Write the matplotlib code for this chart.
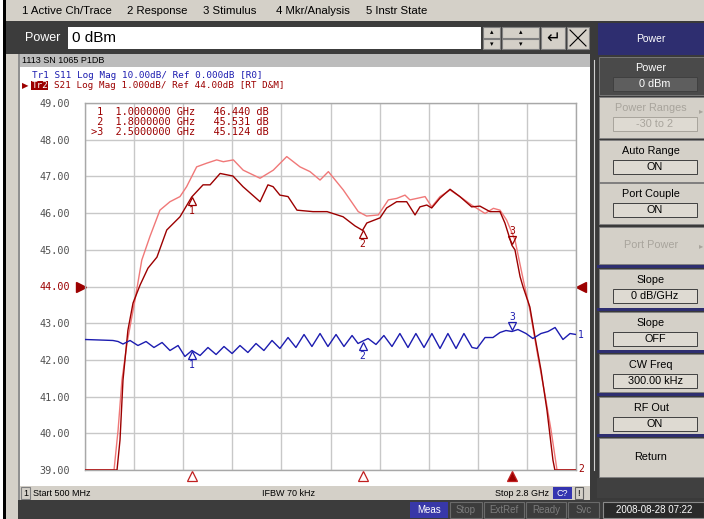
import numpy as np
import matplotlib
matplotlib.use("Agg")
import matplotlib.pyplot as plt
from matplotlib.patches import Rectangle
from matplotlib.transforms import offset_copy

# ---------------- data ----------------
freq_s21 = [0.500, 0.650, 0.664, 0.678, 0.701, 0.725, 0.758, 0.795, 0.837, 0.883, 0.945,
            1.000, 1.053, 1.086, 1.133, 1.193, 1.240, 1.320, 1.357, 1.381, 1.413, 1.451,
            1.493, 1.568, 1.634, 1.709, 1.765, 1.800, 1.820, 1.882, 1.913, 1.960, 2.007,
            2.046, 2.069, 2.101, 2.124, 2.163, 2.210, 2.256, 2.311, 2.350, 2.397, 2.444,
            2.467, 2.500, 2.514, 2.538, 2.552, 2.584, 2.608, 2.636, 2.664, 2.692, 2.701, 2.800]
s21_db = [39.00, 39.00, 39.82, 41.45, 42.81, 43.55, 44.04, 44.50, 44.80, 45.54, 45.90,
          46.44, 46.77, 46.77, 47.08, 47.01, 46.72, 46.31, 46.77, 46.72, 46.49, 46.45,
          46.08, 46.04, 46.04, 45.90, 45.65, 45.53, 45.73, 45.87, 46.14, 46.31, 46.31,
          45.95, 46.17, 46.22, 46.14, 46.41, 46.65, 46.45, 46.17, 46.19, 46.04, 46.04,
          45.73, 45.12, 45.00, 44.27, 43.99, 43.44, 42.62, 41.72, 40.63, 39.27, 39.00, 39.00]

freq_mem = [0.500, 0.636, 0.655, 0.673, 0.697, 0.734, 0.766, 0.804, 0.851, 0.898, 0.945,
            0.976, 1.023, 1.070, 1.117, 1.148, 1.195, 1.241, 1.320, 1.382, 1.445, 1.507,
            1.554, 1.601, 1.640, 1.710, 1.780, 1.819, 1.874, 1.921, 1.960, 1.999, 2.022,
            2.054, 2.093, 2.124, 2.163, 2.210, 2.256, 2.311, 2.374, 2.413, 2.444, 2.475,
            2.514, 2.553, 2.584, 2.622, 2.655, 2.683, 2.711, 2.800]
mem_db = [39.00, 39.00, 40.09, 41.45, 42.46, 43.63, 44.72, 45.36, 46.08, 46.31, 46.45,
          46.72, 47.26, 47.36, 47.45, 47.40, 47.45, 47.17, 46.95, 47.17, 47.54, 47.26,
          47.13, 46.90, 47.13, 46.63, 46.04, 45.92, 45.95, 46.36, 46.40, 46.49, 46.36,
          46.40, 46.45, 46.17, 46.45, 46.63, 46.45, 46.22, 45.99, 46.13, 46.08, 45.81,
          45.27, 44.18, 43.36, 42.08, 41.04, 40.09, 39.00, 39.00]

freq_s11 = [0.500, 0.570, 0.631, 0.655, 0.678, 0.711, 0.748, 0.786, 0.823, 0.861, 0.898,
            0.936, 0.968, 1.001, 1.039, 1.076, 1.114, 1.151, 1.189, 1.226, 1.263, 1.301,
            1.338, 1.376, 1.413, 1.451, 1.488, 1.526, 1.563, 1.601, 1.638, 1.676, 1.713,
            1.751, 1.779, 1.797, 1.826, 1.863, 1.900, 1.938, 1.975, 2.013, 2.050, 2.088,
            2.125, 2.163, 2.200, 2.238, 2.275, 2.313, 2.336, 2.374, 2.411, 2.444, 2.472,
            2.500, 2.528, 2.566, 2.598, 2.636, 2.669, 2.702, 2.739, 2.772, 2.800]
s11_db = [-14.44, -14.58, -14.71, -14.99, -15.67, -14.71, -16.08, -14.99, -16.62, -15.26, -17.44,
          -16.08, -19.07, -17.44, -18.80, -16.62, -18.53, -16.35, -18.26, -16.08, -17.98, -15.53,
          -17.44, -14.71, -16.89, -13.90, -16.62, -13.08, -16.35, -12.81, -16.35, -13.08, -16.35,
          -13.35, -15.53, -14.99, -14.17, -15.80, -13.35, -16.35, -12.81, -16.62, -12.81, -16.62,
          -12.81, -16.89, -12.81, -16.89, -12.81, -16.62, -16.89, -13.90, -13.90, -12.53, -11.99,
          -12.26, -11.72, -12.81, -14.17, -12.81, -12.26, -11.17, -14.44, -12.81, -13.08]

marker_freq = [1.0, 1.8, 2.5]
marker_s21 = [46.440, 45.531, 45.124]
marker_s11 = [-17.44, -14.99, -12.26]
marker_lines = [" 1  1.0000000 GHz   46.440 dB",
                " 2  1.8000000 GHz   45.531 dB",
                ">3  2.5000000 GHz   45.124 dB"]
y_levels = [39, 40, 41, 42, 43, 44, 45, 46, 47, 48, 49]
y_labels = ["39.00", "40.00", "41.00", "42.00", "43.00", "44.00",
            "45.00", "46.00", "47.00", "48.00", "49.00"]
menu_items = ["1 Active Ch/Trace", "2 Response", "3 Stimulus", "4 Mkr/Analysis", "5 Instr State"]
menu_x = [22, 127, 203, 276, 366]
softkeys = [("Power", "0 dBm"), ("Power Ranges", "-30 to 2"), ("Auto Range", "ON"),
            ("Port Couple", "ON"), ("Port Power", None), ("Slope", "0 dB/GHz"),
            ("Slope", "OFF"), ("CW Freq", "300.00 kHz"), ("RF Out", "ON"), ("Return", None)]

# ---------------- colours ----------------
DARK = "#9c0000"
PINK = "#f07878"
BLUE = "#1c1cb0"
GRID = "#c8c8c8"
UIGRAY = "#d4d0c8"
NAVY = "#2e2e70"
MONO = "DejaVu Sans Mono"
SANS = "Liberation Sans"

W, H = 704, 519
fig = plt.figure(figsize=(W / 100, H / 100), dpi=100)
fig.patch.set_facecolor("white")
bg = fig.add_axes([0, 0, 1, 1])
bg.set_xlim(0, W)
bg.set_ylim(H, 0)
bg.axis("off")


def rect(x0, y0, x1, y1, fc, ec="none", lw=0.8, z=1):
    bg.add_patch(Rectangle((x0, y0), x1 - x0, y1 - y0, facecolor=fc, edgecolor=ec, lw=lw, zorder=z))


def txt(x, y, s, **kw):
    kw.setdefault("va", "center")
    kw.setdefault("zorder", 5)
    bg.text(x, y, s, **kw)


# left frame
rect(0, 0, 3, H, "white")
rect(3, 0, 6, H, "black")
# menu bar
rect(6, 0, W, 21, UIGRAY)
for mx, item in zip(menu_x, menu_items):
    txt(mx, 11, item, fontsize=8.2, family=SANS, color="black")
# entry bar
rect(6, 21, 593, 54, "#3c3c3c")
txt(25, 38, "Power", fontsize=9, family=SANS, color="white")
rect(68, 27, 481, 49, "white")
txt(72, 38, "0 dBm", fontsize=11, family=SANS, color="black")
for (x0, x1) in [(483, 500), (502, 539)]:
    rect(x0, 27, x1, 37.5, UIGRAY, ec="#808080")
    rect(x0, 38.5, x1, 49, UIGRAY, ec="#808080")
    txt((x0 + x1) / 2, 32, "\u25b4", fontsize=5, ha="center", color="black")
    txt((x0 + x1) / 2, 44, "\u25be", fontsize=5, ha="center", color="black")
rect(541, 27, 565, 49, UIGRAY, ec="#808080")
txt(553, 38, "\u21b5", fontsize=12, ha="center", color="black")
rect(567, 27, 589, 49, UIGRAY, ec="#808080")
bg.plot([570, 586], [30, 46], color="black", lw=0.8, zorder=6)
bg.plot([570, 586], [46, 30], color="black", lw=0.8, zorder=6)

# window area
rect(6, 54, 20, 500, UIGRAY)
rect(18, 54, 20, 500, "#909090")
rect(20, 54, 590, 67, "#bcbcbc")
txt(22, 60.5, "1113 SN 1065 P1DB", fontsize=6.5, family=SANS, color="black")
rect(20, 67, 590, 486, "white")
rect(590, 21, 597, 500, "#3a3a3a")
bg.plot([594, 594], [60, 470], color="#d0d0d0", lw=0.8, zorder=2)

# trace header lines
txt(32, 75, "Tr1 S11 Log Mag 10.00dB/ Ref 0.000dB [R0]", fontsize=6.7, family=MONO, color=BLUE)
rect(31, 80.5, 48, 90, DARK)
txt(22, 85.5, "\u25b6", fontsize=6, color=DARK)
txt(32, 85.5, "Tr2", fontsize=6.7, family=MONO, color="white", zorder=6)
txt(54.4, 85.5, "S21 Log Mag 1.000dB/ Ref 44.00dB [RT D&M]", fontsize=6.7, family=MONO, color=DARK)

# window status bar
rect(20, 486, 590, 500, UIGRAY)
rect(21, 487, 30, 499, UIGRAY, ec="#808080")
txt(25.5, 493, "1", fontsize=6.5, family=SANS, ha="center")
txt(33, 493, "Start 500 MHz", fontsize=6.5, family=SANS)
txt(262, 493, "IFBW 70 kHz", fontsize=6.5, family=SANS)
txt(549, 493, "Stop 2.8 GHz", fontsize=6.5, family=SANS, ha="right")
rect(553, 487, 572, 499, "#3434b0")
txt(562.5, 493, "C?", fontsize=6.5, family=SANS, ha="center", color="white")
rect(575, 487, 583, 499, UIGRAY, ec="#606060")
txt(579, 493, "!", fontsize=6.5, family=SANS, ha="center")

# bottom status bar
rect(6, 500, 18, H, UIGRAY)
rect(18, 500, W, H, "#3c3c3c")
rect(410, 502, 448, 518, "#3838a8")
txt(429, 510, "Meas", fontsize=7, family=SANS, ha="center", color="white")
for (x0, x1, s) in [(450, 482, "Stop"), (484, 524, "ExtRef"), (526, 566, "Ready"), (568, 599, "Svc")]:
    rect(x0, 502, x1, 518, "#3c3c3c", ec="#6a6a6a")
    txt((x0 + x1) / 2, 510, s, fontsize=7, family=SANS, ha="center", color="#7c7c7c")
rect(603, 502, 704, 518, "#2a2a2a", ec="#8a8a8a")
txt(654, 510, "2008-08-28 07:22", fontsize=7, family=SANS, ha="center", color="white")

# softkey panel
rect(597, 21, W, 500, "#3a3a3a")
rect(598, 23, W, 55, NAVY)
txt(651, 39, "Power", fontsize=7.5, family=SANS, ha="center", color="white")
key_rows = [(57, 95), (97, 138), (140, 182), (183, 224), (227, 264), (269, 309),
            (312, 350), (354, 392), (397, 435), (438, 477)]
for i, ((y0, y1), (lab, val)) in enumerate(zip(key_rows, softkeys)):
    active = i == 0
    disabled = lab in ("Power Ranges", "Port Power")
    face = "#4a4a4a" if active else UIGRAY
    tcol = "white" if active else ("#a8a49c" if disabled else "black")
    rect(599, y0, W, y1, face, ec="#808080", lw=0.6)
    if i >= 5:
        rect(597, y0 - 4, W, y0 - 1, NAVY)
    if val is None:
        txt(651, (y0 + y1) / 2, lab, fontsize=7.8, family=SANS, ha="center", color=tcol)
    else:
        txt(651, y0 + 11, lab, fontsize=7.8, family=SANS, ha="center", color=tcol)
        vface = "#5e5e5e" if active else "#dedad2"
        rect(613, y0 + 20, 697, y0 + 34, vface, ec="#404040" if not disabled else "#a8a49c", lw=0.7)
        txt(655, y0 + 27, val, fontsize=7.8, family=SANS, ha="center", color=tcol)
    if disabled:
        txt(701, (y0 + y1) / 2 - (7 if val else 0), "\u25b8", fontsize=6, ha="center", color="#a8a49c")
rect(597, 478, W, 498, "#404040")

# ---------------- plot ----------------
L, T, R, B = 85, 103, 576, 470
ax = fig.add_axes([L / W, 1 - B / H, (R - L) / W, (B - T) / H])
ax.set_facecolor("none")
ax.set_xlim(0.5, 2.8)
ax.set_ylim(39, 49)
ax.set_xticks(np.linspace(0.5, 2.8, 11))
ax.set_yticks(y_levels)
ax.set_yticklabels(y_labels)
ax.set_xticklabels([])
ax.grid(True, color=GRID, lw=1.0)
ax.set_axisbelow(True)
for sp in ax.spines.values():
    sp.set_color("#a8a8a8")
    sp.set_linewidth(1.0)
ax.tick_params(axis="both", length=0)
ax.tick_params(axis="y", pad=11, labelsize=7.3, labelcolor="#505050")
for lbl in ax.get_yticklabels():
    lbl.set_family(MONO)
    if lbl.get_text() == "44.00":
        lbl.set_color(DARK)

ax.plot(freq_mem, mem_db, color=PINK, lw=1.0, zorder=3, solid_joinstyle="round")
ax.plot(freq_s21, s21_db, color=DARK, lw=1.0, zorder=4, solid_joinstyle="round")

ax2 = ax.twinx()
ax2.set_ylim(-50, 50)
ax2.axis("off")
ax2.plot(freq_s11, s11_db, color=BLUE, lw=1.0, zorder=3, solid_joinstyle="round")


def off(a, dx, dy):
    return offset_copy(a.transData, fig=fig, x=dx, y=dy, units="dots")


# reference arrows
ax.plot([0.5], [44], marker=">", ms=7, color=DARK, clip_on=False, transform=off(ax, -4, 0))
ax.plot([2.8], [44], marker="<", ms=7, color=DARK, clip_on=False, transform=off(ax, 5, 0))

# S21 markers
for i, (f, v) in enumerate(zip(marker_freq, marker_s21)):
    if i < 2:
        ax.plot([f], [v], marker="^", ms=6, mfc="none", mec=DARK, mew=0.9, transform=off(ax, 0, -4), zorder=6)
        ax.text(f, v, str(i + 1), transform=off(ax, 0, -14), ha="center", va="center",
                fontsize=7, family=MONO, color=DARK)
    else:
        ax.plot([f], [v], marker="v", ms=6, mfc="none", mec=DARK, mew=0.9, transform=off(ax, 0, 5), zorder=6)
        ax.text(f, v, str(i + 1), transform=off(ax, 0, 14), ha="center", va="center",
                fontsize=7, family=MONO, color=DARK)
    ax.plot([f], [39], marker="^", ms=7, mfc=DARK if i == 2 else "white", mec="#c02020",
            mew=0.9, clip_on=False, transform=off(ax, 0, -6), zorder=6)

# S11 markers
for i, (f, v) in enumerate(zip(marker_freq, marker_s11)):
    if i < 2:
        ax2.plot([f], [v], marker="^", ms=6, mfc="none", mec=BLUE, mew=0.9, transform=off(ax2, 0, -4), zorder=6)
        ax2.text(f, v, str(i + 1), transform=off(ax2, 0, -14), ha="center", va="center",
                 fontsize=7, family=MONO, color=BLUE)
    else:
        ax2.plot([f], [v], marker="v", ms=6, mfc="none", mec=BLUE, mew=0.9, transform=off(ax2, 0, 5), zorder=6)
        ax2.text(f, v, str(i + 1), transform=off(ax2, 0, 14), ha="center", va="center",
                 fontsize=7, family=MONO, color=BLUE)

# trace end labels
ax2.text(2.8, s11_db[-1], "1", transform=off(ax2, 5, 0), ha="center", va="center",
         fontsize=7, family=MONO, color=BLUE, clip_on=False)
ax.text(2.8, 39, "2", transform=off(ax, 5, 1), ha="center", va="center",
        fontsize=7, family=MONO, color=DARK, clip_on=False)

# marker table
for k, line in enumerate(marker_lines):
    ax.text(0.5, 49, line, transform=off(ax, 6, -9 - 10 * k), ha="left", va="center",
            fontsize=7.4, family=MONO, color=DARK)

fig.savefig("out.png", dpi=100)
